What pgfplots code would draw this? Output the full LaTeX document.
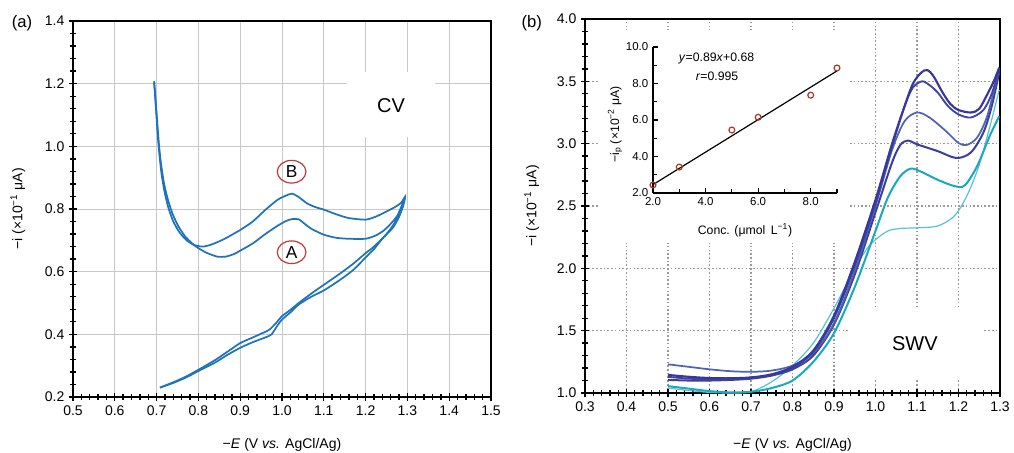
\documentclass[border=0pt]{standalone}
\usepackage{fontspec}
\setmainfont{Liberation Sans}
\usepackage{pgfplots}
\pgfplotsset{compat=1.18}
\usetikzlibrary{shapes.geometric}
\definecolor{cvblue}{HTML}{1F73B9}
\definecolor{navyA}{HTML}{37389A}
\definecolor{navyB}{HTML}{3D44A6}
\definecolor{medblue}{HTML}{4B64B4}
\definecolor{navyC}{HTML}{3B3E9C}
\definecolor{tealc}{HTML}{19A9BC}
\definecolor{lcyan}{HTML}{55C0DC}
\definecolor{cred}{HTML}{C0393B}
\definecolor{mred}{HTML}{A83A2A}
\definecolor{gridA}{HTML}{C8C8C8}
\definecolor{gridB}{HTML}{9A9A9A}
\newcommand\tickfont{\fontsize{10.5}{12}\selectfont}
\newcommand\labfont{\fontsize{10.5}{12}\selectfont}
\newcommand\insfont{\fontsize{8.6}{10}\selectfont}
\begin{document}
\begin{tikzpicture}
\path[use as bounding box] (0,0) rectangle (760.5pt,-339.75pt);
\node[font=\fontsize{12.5}{14}\selectfont] at (16.5pt,-17.25pt) {(a)};
\node[font=\fontsize{12.5}{14}\selectfont] at (398.8pt,-17.25pt) {(b)};
% ---------------- panel (a)
\begin{axis}[
  scale only axis, clip=false,
  at={(54.75pt,-297.75pt)}, anchor=south west,
  width=313.5pt, height=282pt,
  xmin=0.5, xmax=1.5, ymin=0.2, ymax=1.4,
  xtick={0.5,0.6,0.7,0.8,0.9,1.0,1.1,1.2,1.3,1.4,1.5},
  ytick={0.2,0.4,0.6,0.8,1.0,1.2,1.4},
  minor x tick num=4, minor y tick num=4,
  xtick pos=left, ytick pos=left,
  tick align=center,
  major tick length=6pt, minor tick length=4pt,
  tick style={black, line width=1pt},
  grid=major, major grid style={gridA, line width=0.75pt},
  axis line style={line width=1.3pt},
  /pgf/number format/assume math mode=true,
  xticklabel style={font=\tickfont, /pgf/number format/fixed, /pgf/number format/fixed zerofill, /pgf/number format/precision=1},
  yticklabel style={font=\tickfont, /pgf/number format/fixed, /pgf/number format/fixed zerofill, /pgf/number format/precision=1},
  label style={font=\labfont},
  xlabel={−\textit{E} (V \textit{vs.} AgCl/Ag)},
  ylabel={−i (×10\textsuperscript{−1} μA)},
  x label style={at={(axis description cs:0.5,-0.128)}, anchor=center},
  y label style={at={(axis description cs:-0.132,0.5)}, anchor=center},
]
\fill[white] (axis cs:1.155,1.03) rectangle (axis cs:1.366,1.237);
\addplot[cvblue, line width=1.3pt, smooth, tension=0.4] coordinates {
(0.694,1.207)(0.697,1.15)(0.700,1.09)(0.703,1.03)(0.707,0.97)(0.712,0.91)(0.719,0.855)(0.728,0.805)(0.740,0.76)(0.755,0.725)(0.772,0.70)(0.790,0.685)(0.81,0.68)(0.83,0.686)(0.86,0.703)(0.90,0.733)(0.93,0.76)(0.96,0.797)(0.99,0.83)(1.01,0.843)(1.024,0.849)(1.04,0.838)(1.06,0.818)(1.08,0.806)(1.10,0.798)(1.13,0.783)(1.16,0.771)(1.20,0.766)(1.225,0.776)(1.25,0.792)(1.27,0.806)(1.285,0.82)(1.294,0.838)
(1.29,0.82)(1.28,0.79)(1.27,0.757)(1.25,0.72)(1.22,0.68)(1.20,0.659)(1.17,0.625)(1.14,0.595)(1.10,0.558)(1.07,0.53)(1.04,0.50)(1.02,0.478)(1.0,0.458)(0.985,0.435)(0.97,0.415)(0.955,0.405)(0.93,0.39)(0.90,0.372)(0.87,0.345)(0.84,0.318)(0.80,0.287)(0.77,0.265)(0.74,0.247)(0.708,0.23)};
\addplot[cvblue, line width=1.3pt, smooth, tension=0.4] coordinates {
(0.694,1.207)(0.698,1.14)(0.702,1.07)(0.706,1.0)(0.711,0.94)(0.718,0.88)(0.727,0.83)(0.738,0.785)(0.752,0.745)(0.768,0.713)(0.785,0.69)(0.80,0.675)(0.82,0.66)(0.845,0.648)(0.865,0.648)(0.885,0.656)(0.90,0.667)(0.93,0.69)(0.96,0.72)(0.99,0.747)(1.01,0.762)(1.025,0.768)(1.04,0.767)(1.055,0.752)(1.07,0.737)(1.10,0.718)(1.13,0.708)(1.16,0.705)(1.20,0.705)(1.225,0.716)(1.245,0.733)(1.265,0.76)(1.28,0.787)(1.294,0.835)
(1.29,0.81)(1.28,0.775)(1.265,0.74)(1.24,0.705)(1.22,0.672)(1.2,0.645)(1.17,0.605)(1.14,0.575)(1.10,0.54)(1.07,0.52)(1.04,0.495)(1.02,0.47)(1.0,0.447)(0.99,0.43)(0.975,0.40)(0.96,0.39)(0.93,0.375)(0.90,0.357)(0.87,0.335)(0.84,0.31)(0.80,0.283)(0.77,0.262)(0.74,0.245)(0.708,0.23)};
\node[font=\fontsize{15}{17}\selectfont] at (axis cs:1.261,1.129) {CV};
\node[draw=cred, line width=0.9pt, ellipse, minimum width=21.5pt, minimum height=17pt, inner sep=0pt, font=\fontsize{13}{15}\selectfont] at (axis cs:1.023,0.919) {B};
\node[draw=cred, line width=0.9pt, ellipse, minimum width=21.5pt, minimum height=17pt, inner sep=0pt, font=\fontsize{13}{15}\selectfont] at (axis cs:1.023,0.662) {A};
\end{axis}
% ---------------- panel (b)
\begin{axis}[
  scale only axis, clip=false,
  at={(438.75pt,-294.75pt)}, anchor=south west,
  width=311.25pt, height=280.5pt,
  xmin=0.3, xmax=1.3, ymin=1.0, ymax=4.0,
  xtick={0.3,0.4,0.5,0.6,0.7,0.8,0.9,1.0,1.1,1.2,1.3},
  ytick={1.0,1.5,2.0,2.5,3.0,3.5,4.0},
  minor x tick num=4, minor y tick num=4,
  xtick pos=left, ytick pos=left,
  tick align=center,
  major tick length=6pt, minor tick length=4pt,
  tick style={black, line width=1pt},
  grid=major, major grid style={gridB, line width=0.9pt, dash pattern=on 1.2pt off 1.6pt},
  axis line style={line width=1.3pt},
  /pgf/number format/assume math mode=true,
  xticklabel style={font=\tickfont, /pgf/number format/fixed, /pgf/number format/fixed zerofill, /pgf/number format/precision=1},
  yticklabel style={font=\tickfont, /pgf/number format/fixed, /pgf/number format/fixed zerofill, /pgf/number format/precision=1},
  label style={font=\labfont},
  xlabel={−\textit{E} (V \textit{vs.} AgCl/Ag)},
  ylabel={−i (×10\textsuperscript{−1} μA)},
  x label style={at={(axis description cs:0.5,-0.139)}, anchor=center},
  y label style={at={(axis description cs:-0.128,0.5)}, anchor=center},
]
\fill[white] (axis cs:0.336,2.2) rectangle (axis cs:0.9386,3.91);
\fill[white] (axis cs:0.9386,1.104) rectangle (axis cs:1.259,1.69);
\addplot[lcyan, line width=0.9pt, smooth, tension=0.5] coordinates {
(0.5,1.04)(0.55,1.02)(0.6,1.005)(0.65,1.0)(0.7,1.01)(0.75,1.09)(0.8,1.22)(0.85,1.4)(0.9,1.68)(0.95,2.0)(0.98,2.16)(1.0,2.23)(1.03,2.3)(1.06,2.32)(1.1,2.325)(1.15,2.34)(1.19,2.42)(1.22,2.58)(1.25,2.83)(1.275,3.13)(1.298,3.43)};
\addplot[tealc, line width=1.5pt, smooth, tension=0.5] coordinates {
(0.5,1.055)(0.55,1.035)(0.6,1.015)(0.65,1.005)(0.7,1.01)(0.75,1.04)(0.8,1.1)(0.85,1.25)(0.9,1.48)(0.95,1.85)(1.0,2.3)(1.03,2.57)(1.06,2.74)(1.085,2.8)(1.11,2.775)(1.15,2.71)(1.19,2.66)(1.215,2.665)(1.245,2.82)(1.275,3.06)(1.298,3.22)};
\addplot[navyC, line width=1.5pt, smooth, tension=0.5] coordinates {
(0.5,1.105)(0.55,1.1)(0.6,1.1)(0.65,1.105)(0.7,1.115)(0.75,1.14)(0.8,1.19)(0.85,1.3)(0.9,1.55)(0.95,1.95)(1.0,2.45)(1.04,2.85)(1.06,2.99)(1.078,3.025)(1.1,2.995)(1.15,2.94)(1.195,2.885)(1.23,2.93)(1.26,3.09)(1.28,3.3)(1.298,3.57)};
\addplot[medblue, line width=1.3pt, smooth, tension=0.5] coordinates {
(0.5,1.23)(0.55,1.21)(0.6,1.19)(0.65,1.175)(0.7,1.17)(0.75,1.18)(0.8,1.22)(0.85,1.32)(0.9,1.56)(0.95,1.98)(1.0,2.5)(1.04,2.95)(1.07,3.18)(1.1,3.25)(1.13,3.21)(1.17,3.1)(1.2,3.005)(1.22,2.99)(1.245,3.05)(1.27,3.23)(1.298,3.6)};
\addplot[navyB, line width=1.4pt, smooth, tension=0.5] coordinates {
(0.5,1.13)(0.55,1.115)(0.6,1.11)(0.65,1.11)(0.7,1.12)(0.75,1.145)(0.8,1.2)(0.85,1.33)(0.9,1.6)(0.95,2.02)(1.0,2.52)(1.04,2.98)(1.07,3.3)(1.09,3.45)(1.112,3.5)(1.13,3.47)(1.15,3.41)(1.175,3.3)(1.2,3.235)(1.23,3.21)(1.26,3.27)(1.28,3.4)(1.298,3.6)};
\addplot[navyA, line width=1.6pt, smooth, tension=0.5] coordinates {
(0.5,1.145)(0.55,1.13)(0.6,1.12)(0.65,1.118)(0.7,1.125)(0.75,1.15)(0.8,1.21)(0.85,1.34)(0.9,1.62)(0.95,2.05)(1.0,2.55)(1.04,3.0)(1.07,3.3)(1.09,3.48)(1.11,3.57)(1.125,3.59)(1.14,3.54)(1.16,3.42)(1.18,3.32)(1.2,3.27)(1.23,3.25)(1.25,3.28)(1.27,3.4)(1.285,3.5)(1.298,3.61)};
\node[font=\fontsize{15}{17}\selectfont] at (axis cs:1.095,1.393) {SWV};
\end{axis}
% ---------------- inset
\begin{axis}[
  scale only axis, clip=false,
  at={(489.75pt,-144.75pt)}, anchor=south west,
  width=138pt, height=109.5pt,
  xmin=2, xmax=9, ymin=2, ymax=10,
  axis x line*=bottom, axis y line*=left,
  axis line style={line width=1.1pt, -},
  xtick={2,4,6,8}, minor xtick={3,5,7,9},
  ytick={2,4,6,8,10}, minor ytick={3,5,7,9},
  tick align=inside, major tick length=3.5pt, minor tick length=3pt,
  tick style={black, line width=0.8pt},
  /pgf/number format/assume math mode=true,
  xticklabel style={font=\insfont, /pgf/number format/fixed, /pgf/number format/fixed zerofill, /pgf/number format/precision=1},
  yticklabel style={font=\insfont, /pgf/number format/fixed, /pgf/number format/fixed zerofill, /pgf/number format/precision=1},
  label style={font=\fontsize{9.2}{11}\selectfont},
  xlabel={Conc. (μmol\, L\textsuperscript{−1})},
  ylabel={−i\textsubscript{p} (×10\textsuperscript{−2} μA)},
  x label style={at={(axis description cs:0.5,-0.253)}, anchor=center},
  y label style={at={(axis description cs:-0.2065,0.47)}, anchor=center},
]
\addplot[black, line width=0.9pt] coordinates {(2,2.46)(9,8.69)};
\addplot[only marks, mark=o, mark size=2.2pt, mark options={mred, line width=0.9pt}] coordinates {
(2,2.44)(3,3.42)(5,5.45)(6,6.15)(8,7.36)(9,8.85)};
\node[font=\fontsize{9.2}{11}\selectfont] at (axis cs:4.42,9.37) {\textit{y}=0.89\textit{x}+0.68};
\node[font=\fontsize{9.2}{11}\selectfont] at (axis cs:4.44,8.42) {\textit{r}=0.995};
\end{axis}
\end{tikzpicture}
\end{document}
